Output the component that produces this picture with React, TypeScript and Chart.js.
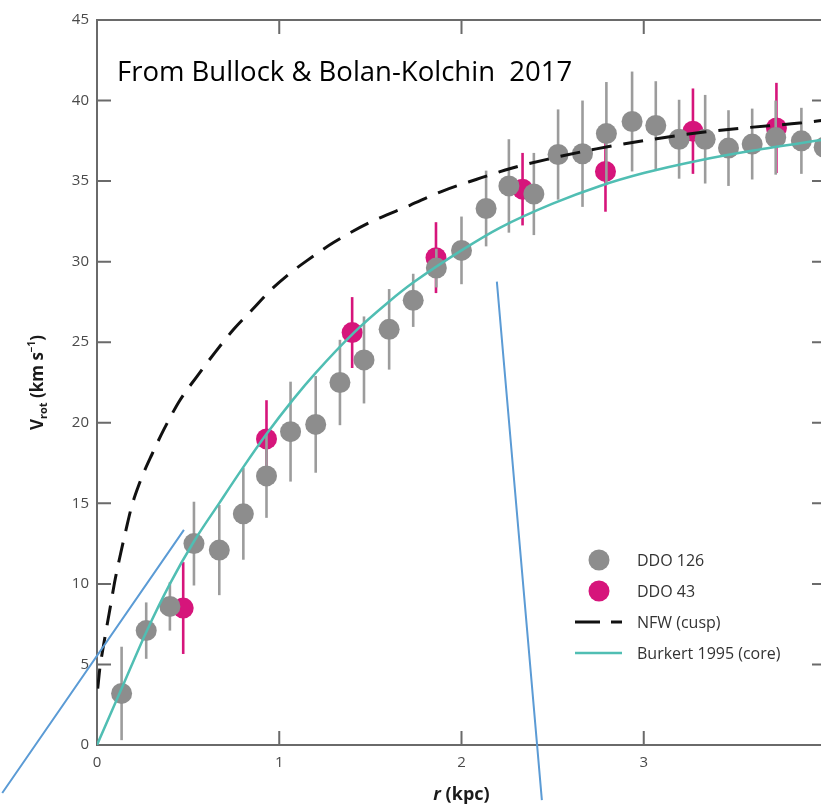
import React, { useEffect, useRef } from 'react';
import { Chart, registerables } from 'chart.js';

Chart.register(...registerables);

// ---------- data ----------
const xTicks = [0, 1, 2, 3, 4];
const yTicks = [0, 5, 10, 15, 20, 25, 30, 35, 40, 45];

const ddo126R = [0.135, 0.27, 0.40, 0.532, 0.671, 0.803, 0.93, 1.062, 1.20, 1.333, 1.465, 1.603, 1.735, 1.862, 2.0, 2.135, 2.26, 2.397, 2.53, 2.664, 2.795, 2.936, 3.066, 3.194, 3.337, 3.465, 3.595, 3.724, 3.865, 3.99];
const ddo126V = [3.2, 7.1, 8.6, 12.5, 12.1, 14.35, 16.7, 19.45, 19.9, 22.5, 23.9, 25.8, 27.6, 29.6, 30.7, 33.3, 34.7, 34.2, 36.65, 36.7, 37.95, 38.7, 38.45, 37.6, 37.6, 37.05, 37.3, 37.7, 37.5, 37.1];
const ddo126Err = [2.9, 1.75, 1.5, 2.6, 2.8, 2.85, 2.6, 3.1, 3.0, 2.65, 2.7, 2.5, 1.65, 1.2, 2.1, 2.35, 2.9, 2.55, 2.8, 3.3, 3.2, 3.1, 2.75, 2.45, 2.75, 2.35, 2.2, 2.3, 2.05, 2.1];

const ddo43R = [0.473, 0.93, 1.40, 1.86, 2.335, 2.79, 3.27, 3.728];
const ddo43V = [8.5, 19.0, 25.6, 30.25, 34.5, 35.6, 38.1, 38.3];
const ddo43Err = [2.85, 2.4, 2.2, 2.2, 2.25, 2.5, 2.65, 2.8];

const nfwR = [0.004, 0.016, 0.03, 0.05, 0.075, 0.1, 0.13, 0.16, 0.19, 0.225, 0.26, 0.3, 0.35, 0.4, 0.455, 0.55, 0.65, 0.75, 0.85, 0.95, 1.05, 1.15, 1.3, 1.5, 1.717, 1.9, 2.08, 2.274, 2.47, 2.74, 3.05, 3.3, 3.55, 3.856, 4.0];
const nfwV = [3.5, 4.8, 5.8, 7.1, 8.7, 10.3, 11.9, 13.4, 14.8, 16.0, 17.0, 18.0, 19.2, 20.3, 21.4, 22.9, 24.4, 25.8, 27.0, 28.2, 29.2, 30.05, 31.2, 32.45, 33.5, 34.4, 35.1, 35.8, 36.35, 37.0, 37.6, 38.0, 38.3, 38.6, 38.8];

const burkertR = [0, 0.135, 0.27, 0.40, 0.53, 0.67, 0.80, 0.93, 1.08, 1.2, 1.41, 1.6, 1.735, 2.0, 2.21, 2.5, 2.76, 3.0, 3.31, 3.6, 4.0];
const burkertV = [0, 3.5, 7.0, 10.0, 12.6, 15.0, 17.2, 19.3, 21.5, 23.1, 25.6, 27.5, 28.7, 30.7, 32.1, 33.6, 34.7, 35.5, 36.3, 36.9, 37.6];

const seriesLabels = ['DDO 126', 'DDO 43', 'NFW (cusp)', 'Burkert 1995 (core)'];
const noteText = 'From Bullock & Bolan-Kolchin  2017';

// annotation (blue) pointer lines, in data units
const pointer1R = [-0.52, 0.477];
const pointer1V = [-2.98, 13.35];
const pointer2R = [2.194, 2.441];
const pointer2V = [28.76, -3.42];

// ---------- styles ----------
const GRAY = '#8d8d8d';
const GRAY_BAR = '#9c9c9c';
const PINK = '#d6157b';
const TEAL = '#50beb3';
const AXIS = '#6a6a6a';
const BLUE = '#5b9bd5';
const TICK = 14;

const pts = (xs: number[], ys: number[]) => xs.map((x, i) => ({ x, y: ys[i] }));

const framePlugin = {
  id: 'frame',
  beforeDatasetsDraw(chart: any) {
    const { ctx, chartArea: a, scales } = chart;
    const x = scales.x, y = scales.y;
    ctx.save();
    ctx.strokeStyle = AXIS;
    ctx.lineWidth = 2;
    ctx.beginPath();
    ctx.rect(a.left, a.top, a.right - a.left, a.bottom - a.top);
    for (const t of xTicks) {
      const px = x.getPixelForValue(t);
      ctx.moveTo(px, a.bottom); ctx.lineTo(px, a.bottom - TICK);
      ctx.moveTo(px, a.top); ctx.lineTo(px, a.top + TICK);
    }
    for (const t of yTicks) {
      const py = y.getPixelForValue(t);
      ctx.moveTo(a.left, py); ctx.lineTo(a.left + TICK, py);
      ctx.moveTo(a.right, py); ctx.lineTo(a.right - TICK, py);
    }
    ctx.stroke();
    ctx.restore();
  },
};

const errorBarPlugin = {
  id: 'errorBars',
  beforeDatasetDraw(chart: any, args: any) {
    const ds = chart.data.datasets[args.index];
    if (!ds.errors) return;
    const { ctx, scales } = chart;
    ctx.save();
    ctx.strokeStyle = ds.errorColor;
    ctx.lineWidth = 2.6;
    ds.data.forEach((p: any, i: number) => {
      const px = scales.x.getPixelForValue(p.x);
      ctx.beginPath();
      ctx.moveTo(px, scales.y.getPixelForValue(p.y - ds.errors[i]));
      ctx.lineTo(px, scales.y.getPixelForValue(p.y + ds.errors[i]));
      ctx.stroke();
    });
    ctx.restore();
  },
};

function drawRuns(ctx: CanvasRenderingContext2D, runs: { t: string; f: string; dy: number }[], x: number, y: number, center: boolean) {
  let total = 0;
  for (const r of runs) { ctx.font = r.f; total += ctx.measureText(r.t).width; }
  let cx = center ? x - total / 2 : x;
  for (const r of runs) {
    ctx.font = r.f;
    ctx.fillText(r.t, cx, y + r.dy);
    cx += ctx.measureText(r.t).width;
  }
}

const decorPlugin = {
  id: 'decor',
  afterDraw(chart: any) {
    const { ctx, chartArea: a, scales } = chart;
    const x = scales.x, y = scales.y;
    ctx.save();

    // note text
    ctx.fillStyle = '#000';
    ctx.font = '27.5px "Open Sans"';
    ctx.textBaseline = 'alphabetic';
    ctx.textAlign = 'left';
    ctx.fillText(noteText, a.left + 20, a.top + 61);

    // x title
    ctx.fillStyle = '#1a1a1a';
    ctx.textBaseline = 'middle';
    drawRuns(ctx, [
      { t: 'r', f: 'italic bold 18px "Open Sans"', dy: 0 },
      { t: ' (kpc)', f: 'bold 18px "Open Sans"', dy: 0 },
    ], (a.left + a.right) / 2, a.bottom + 50, true);

    // y title (rotated)
    ctx.save();
    ctx.translate(43, (a.top + a.bottom) / 2);
    ctx.rotate(-Math.PI / 2);
    ctx.textBaseline = 'alphabetic';
    drawRuns(ctx, [
      { t: 'V', f: 'bold 17px "Open Sans"', dy: 0 },
      { t: 'rot', f: 'bold 11px "Open Sans"', dy: 4 },
      { t: ' (km s', f: 'bold 17px "Open Sans"', dy: 0 },
      { t: '\u22121', f: 'bold 10px "Open Sans"', dy: -8 },
      { t: ')', f: 'bold 17px "Open Sans"', dy: 0 },
    ], 0, 0, true);
    ctx.restore();

    // legend
    const lx = a.left + 502;
    const tx = a.left + 540;
    const rows = [a.top + 540, a.top + 571, a.top + 602, a.top + 633];
    ctx.font = '16px "Open Sans"';
    ctx.textBaseline = 'middle';
    ctx.textAlign = 'left';
    ctx.fillStyle = GRAY;
    ctx.beginPath(); ctx.arc(lx, rows[0], 10.5, 0, Math.PI * 2); ctx.fill();
    ctx.fillStyle = PINK;
    ctx.beginPath(); ctx.arc(lx, rows[1], 10.5, 0, Math.PI * 2); ctx.fill();
    ctx.strokeStyle = '#111'; ctx.lineWidth = 3; ctx.setLineDash([25, 11]);
    ctx.beginPath(); ctx.moveTo(a.left + 478, rows[2]); ctx.lineTo(a.left + 525, rows[2]); ctx.stroke();
    ctx.setLineDash([]);
    ctx.strokeStyle = TEAL; ctx.lineWidth = 2.5;
    ctx.beginPath(); ctx.moveTo(a.left + 478, rows[3]); ctx.lineTo(a.left + 525, rows[3]); ctx.stroke();
    ctx.fillStyle = '#333';
    seriesLabels.forEach((l, i) => ctx.fillText(l, tx, rows[i] + 1));

    // blue pointer lines
    ctx.strokeStyle = BLUE; ctx.lineWidth = 2;
    ctx.beginPath();
    ctx.moveTo(x.getPixelForValue(pointer1R[0]), y.getPixelForValue(pointer1V[0]));
    ctx.lineTo(x.getPixelForValue(pointer1R[1]), y.getPixelForValue(pointer1V[1]));
    ctx.moveTo(x.getPixelForValue(pointer2R[0]), y.getPixelForValue(pointer2V[0]));
    ctx.lineTo(x.getPixelForValue(pointer2R[1]), y.getPixelForValue(pointer2V[1]));
    ctx.stroke();
    ctx.restore();
  },
};

export default function App() {
  const ref = useRef<HTMLCanvasElement | null>(null);

  useEffect(() => {
    if (!ref.current) return;
    const chart = new Chart(ref.current, {
      type: 'scatter',
      data: {
        datasets: [
          {
            label: seriesLabels[3],
            data: pts(burkertR, burkertV),
            showLine: true,
            borderColor: TEAL,
            borderWidth: 2.5,
            pointRadius: 0,
            cubicInterpolationMode: 'monotone',
            order: 0,
          } as any,
          {
            label: seriesLabels[2],
            data: pts(nfwR, nfwV),
            showLine: true,
            borderColor: '#111',
            borderWidth: 3,
            borderDash: [20, 12],
            pointRadius: 0,
            cubicInterpolationMode: 'monotone',
            order: 0,
          } as any,
          {
            label: seriesLabels[0],
            data: pts(ddo126R, ddo126V),
            backgroundColor: GRAY,
            borderWidth: 0,
            pointRadius: 10.5,
            errors: ddo126Err,
            errorColor: GRAY_BAR,
            order: 1,
            clip: false,
          } as any,
          {
            label: seriesLabels[1],
            data: pts(ddo43R, ddo43V),
            backgroundColor: PINK,
            borderWidth: 0,
            pointRadius: 10.5,
            errors: ddo43Err,
            errorColor: PINK,
            order: 2,
            clip: false,
          } as any,
        ],
      },
      options: {
        responsive: false,
        animation: false,
        events: [],
        layout: { padding: { left: 0, top: 20, right: 14, bottom: 0 } },
        plugins: { legend: { display: false }, tooltip: { enabled: false } },
        scales: {
          x: {
            type: 'linear',
            min: 0,
            max: 4,
            grid: { display: false, drawTicks: false },
            border: { display: false },
            ticks: {
              stepSize: 1,
              padding: 9,
              color: '#4a4a4a',
              font: { family: '"Open Sans"', size: 15 },
            },
            afterFit: (s: any) => { s.height = 61; },
          },
          y: {
            type: 'linear',
            min: 0,
            max: 45,
            grid: { display: false, drawTicks: false },
            border: { display: false },
            ticks: {
              stepSize: 5,
              padding: 8,
              color: '#4a4a4a',
              font: { family: '"Open Sans"', size: 15 },
            },
            afterFit: (s: any) => { s.width = 97; },
          },
        },
      } as any,
      plugins: [framePlugin, errorBarPlugin, decorPlugin],
    });
    return () => chart.destroy();
  }, []);

  return (
    <div style={{ position: 'fixed', left: 0, top: 0, width: 821, height: 806, overflow: 'hidden', background: '#fff' }}>
      <canvas ref={ref} width={840} height={806} style={{ display: 'block', width: 840, height: 806 }} />
    </div>
  );
}
